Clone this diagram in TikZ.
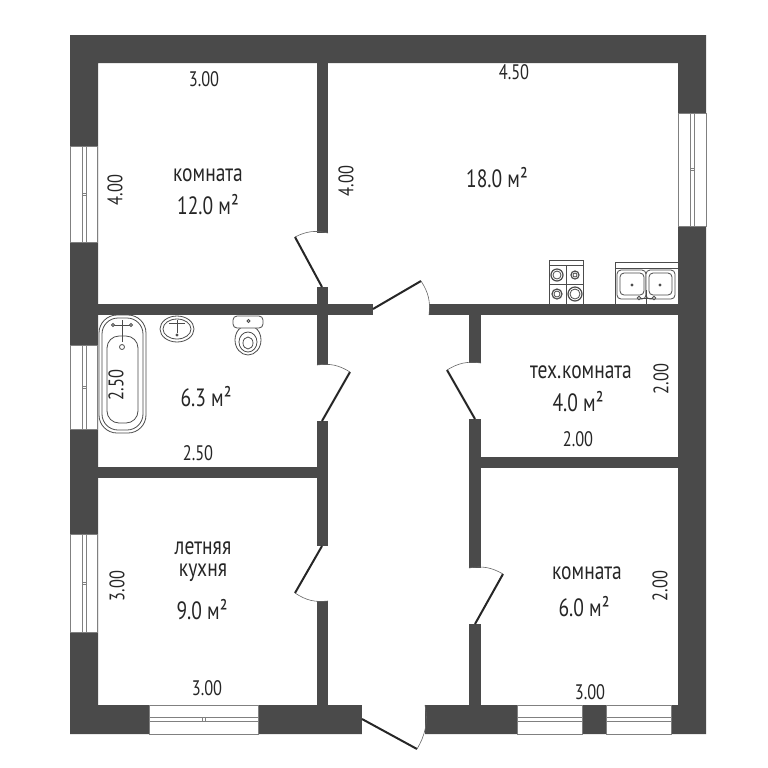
\documentclass[tikz,border=0pt]{standalone}
\usepackage{fontspec}
\setmainfont{PT Sans}[FakeStretch=0.78]
\definecolor{wallgrey}{HTML}{4A4A4A}
\tikzstyle{wall} = [fill=wallgrey, draw=none]
\tikzstyle{pane} = [draw=gray, line width=0.3pt, fill=white]
\tikzstyle{leaf} = [draw=black!85, line width=1pt]
\tikzstyle{swing} = [draw=black!60, line width=0.3pt]
\tikzstyle{fixture} = [draw=black!70, line width=0.4pt, fill=white]
\tikzstyle{room} = [black!85, font=\fontsize{12.5}{13.5}\selectfont, align=center]
\tikzstyle{size} = [black!85, font=\fontsize{10.5}{11.5}\selectfont]
\begin{document}
\begin{tikzpicture}[x=0.5pt,y=-0.5pt]
    \useasboundingbox (0,0) rectangle (768,768);
    % outer walls
    \fill[wall,even odd rule] (70,35) rectangle (706,734) (98,63) rectangle (678,705);
    % inner walls
    \fill[wall] (317,63) rectangle (328,233);
    \fill[wall] (317,287) rectangle (328,365);
    \fill[wall] (317,421) rectangle (328,546);
    \fill[wall] (317,601) rectangle (328,705);
    \fill[wall] (469,315) rectangle (481,363);
    \fill[wall] (469,419) rectangle (481,568);
    \fill[wall] (469,624) rectangle (481,705);
    \fill[wall] (98,304) rectangle (373,315);
    \fill[wall] (429,304) rectangle (678,315);
    \fill[wall] (481,457) rectangle (678,468);
    \fill[wall] (98,467) rectangle (317,478);
    % windows in the side walls
    \foreach \ya/\yb in {146/242,345/429,534/632} {
        \draw[pane] (70,\ya) rectangle (97,\yb);
        \draw[pane] (82,\ya) rectangle (86,\yb);
        \draw[pane] (82,{(\ya+\yb)/2-1}) rectangle (86,{(\ya+\yb)/2+1});
    }
    \draw[pane] (678,113) rectangle (706,226);
    \draw[pane] (690,113) rectangle (694,226);
    \draw[pane] (690,168.5) rectangle (694,170.5);
    % windows in the bottom wall
    \foreach \xa/\xb in {149/258,517/582,606/671} {
        \draw[pane] (\xa,705) rectangle (\xb,734);
        \draw[pane] (\xa,717) rectangle (\xb,721);
    }
    \draw[pane] (202,717) rectangle (205,721);
    % front door gap
    \fill[white] (362,705) rectangle (425,736);
    % doors
    \draw[leaf] (322,287) -- (295,237);
    \draw[swing] (295,237) to[bend left=20] (328,233);
    \draw[leaf] (322,421) -- (350,372);
    \draw[swing] (350,372) to[bend right=20] (317,365);
    \draw[leaf] (373,309) -- (421,281);
    \draw[swing] (421,281) to[bend left=20] (429,315);
    \draw[leaf] (475,419) -- (447,370);
    \draw[swing] (447,370) to[bend left=20] (481,363);
    \draw[leaf] (322,546) -- (295,593);
    \draw[swing] (295,593) to[bend right=20] (328,601);
    \draw[leaf] (475,624) -- (503,574);
    \draw[swing] (503,574) to[bend right=20] (469,568);
    \draw[leaf] (362,719) -- (417,749);
    \draw[swing] (417,749) to[bend right=20] (425,705);
    % bath
    \draw[fixture,rounded corners=9pt] (99,315) rectangle (146,433);
    \draw[fixture,rounded corners=8pt] (102,318) rectangle (143,430);
    \draw[fixture,rounded corners=6pt] (107,336) rectangle (138,423);
    \draw[fixture] (122,347) circle (2.5);
    \draw[fixture] (122,320) -- (122,342);
    \draw[fixture] (114,325) -- (130,325);
    \draw[fixture] (113,325) circle (1.5);
    \draw[fixture] (131,325) circle (1.5);
    % wash basin
    \draw[fixture] (177,329) ellipse (17 and 13);
    \draw[fixture] (177,329) ellipse (14 and 10);
    \draw[fixture] (177,320) -- (177,333);
    \draw[fixture] (169,323) -- (185,323);
    \draw[fixture] (177,335) circle (1);
    % toilet
    \draw[fixture] (248,340) ellipse (13 and 15);
    \draw[fixture] (248,342) ellipse (9 and 10);
    \draw[fixture] (248,343) ellipse (5 and 6);
    \draw[fixture,rounded corners=2pt] (233,316) rectangle (263,328);
    \draw[fixture] (248.5,321) circle (1.5);
    % stove
    \draw[fixture] (549,260) rectangle (583,304);
    \draw[fixture] (549,260) rectangle (583,265);
    \draw[fixture] (566,265) -- (566,304);
    \draw[fixture] (549,284) -- (583,284);
    \foreach \cx/\cy/\r in {557/275/6,575/275/4,557/294/5,575/294/7} {
        \draw[fixture,line width=0.6pt] (\cx,\cy) circle (\r);
        \draw[fixture] (\cx,\cy) circle (\r-2);
    }
    % kitchen sink
    \draw[fixture] (615,262) rectangle (678,304);
    \draw[fixture] (615,262) rectangle (678,268);
    \draw[fixture,rounded corners=2pt] (617,270) rectangle (646,299);
    \draw[fixture,rounded corners=2pt] (646,270) rectangle (675,299);
    \draw[fixture,rounded corners=2pt] (620,273) rectangle (644,295);
    \draw[fixture,rounded corners=2pt] (649,273) rectangle (672,295);
    \draw[fixture] (632,285) circle (1);
    \draw[fixture] (660,285) circle (1);
    \draw[fixture] (646,290) -- (646,304);
    \draw[fixture] (641,298) -- (652,298);
    \draw[fixture] (639,298) circle (1.8);
    \draw[fixture] (654,298) circle (1.8);
    % room labels
    \node[room] (bedroom) at (208,175) {комната};
    \node[room] (bedroomarea) at (208,205) {12.0 м²};
    \node[room] (hallarea) at (497,178) {18.0 м²};
    \node[room] (batharea) at (206,397) {6.3 м²};
    \node[room] (techroom) at (581,372) {тех.комната};
    \node[room] (techarea) at (578,402) {4.0 м²};
    \node[room] (summerkitchen) at (203,562) {летняя\\[-2.5pt]кухня};
    \node[room] (summerarea) at (202,610) {9.0 м²};
    \node[room] (smallroom) at (587,573) {комната};
    \node[room] (smallarea) at (584,607) {6.0 м²};
    % sizes
    \node[size] (bedroomw) at (204,79) {3.00};
    \node[size,rotate=90] (bedroomh) at (115,190) {4.00};
    \node[size,rotate=90] (hallh) at (346,181) {4.00};
    \node[size] (hallw) at (514,72) {4.50};
    \node[size,rotate=90] (bathh) at (116,385) {2.50};
    \node[size] (bathw) at (198,453) {2.50};
    \node[size,rotate=90] (techh) at (661,379) {2.00};
    \node[size] (techw) at (578,439) {2.00};
    \node[size,rotate=90] (summerh) at (117,586) {3.00};
    \node[size] (summerw) at (207,688) {3.00};
    \node[size,rotate=90] (smallh) at (660,586) {2.00};
    \node[size] (smallw) at (590,692) {3.00};
\end{tikzpicture}
\end{document}
